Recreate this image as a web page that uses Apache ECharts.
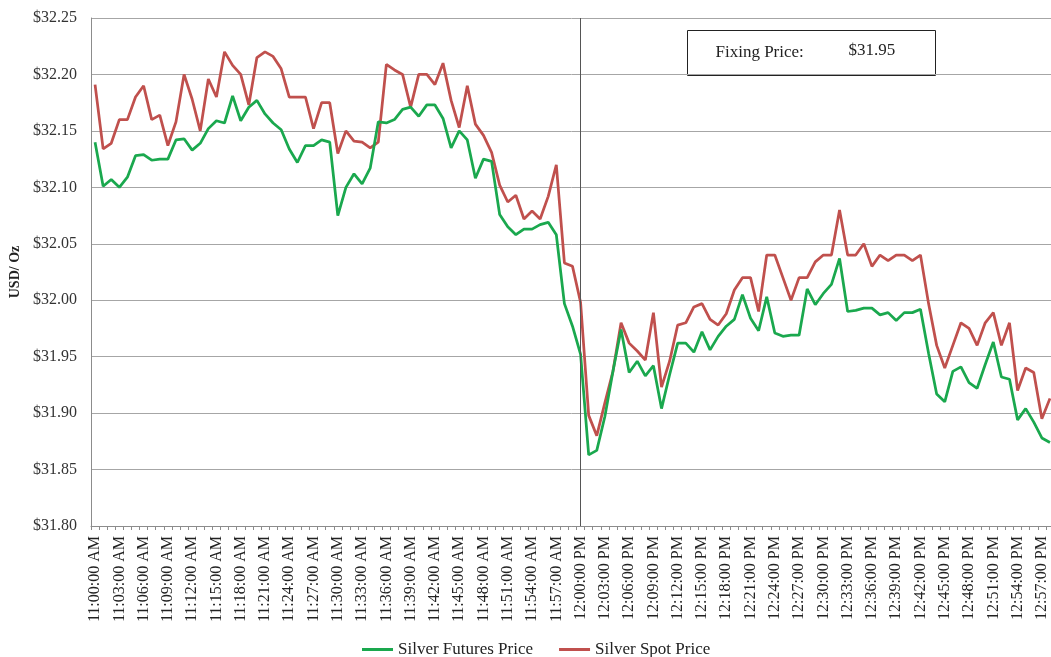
<!DOCTYPE html>
<html>
<head>
<meta charset="utf-8">
<title>Silver Futures vs Spot Price</title>
<script src="https://cdn.jsdelivr.net/npm/echarts@6/dist/echarts.min.js"></script>
<style>
  html, body { margin: 0; padding: 0; background: #fff; }
  #chart { width: 1051px; height: 657px; }
</style>
</head>
<body>
<div id="chart"></div>
<script>
// One sample per minute, 11:00 AM through 12:58 PM
const startMinute = 11 * 60;
const sampleCount = 119;
const timeLabels = [];
for (let i = 0; i < sampleCount; i++) {
  const t = startMinute + i;
  const h = Math.floor(t / 60);
  const m = t % 60;
  const h12 = h > 12 ? h - 12 : h;
  timeLabels.push(h12 + ':' + String(m).padStart(2, '0') + ':00 ' + (h >= 12 ? 'PM' : 'AM'));
}

const futuresPrice = [
  32.140, 32.101, 32.107, 32.100, 32.109, 32.128, 32.129, 32.124, 32.125, 32.125,
  32.142, 32.143, 32.133, 32.139, 32.152, 32.159, 32.157, 32.181, 32.159, 32.171,
  32.177, 32.165, 32.157, 32.151, 32.134, 32.122, 32.137, 32.137, 32.142, 32.140,
  32.075, 32.100, 32.112, 32.103, 32.117, 32.158, 32.157, 32.160, 32.169, 32.171,
  32.163, 32.173, 32.173, 32.161, 32.135, 32.150, 32.142, 32.108, 32.125, 32.123,
  32.076, 32.065, 32.058, 32.063, 32.063, 32.067, 32.069, 32.058, 31.997, 31.977,
  31.952, 31.863, 31.867, 31.897, 31.937, 31.974, 31.936, 31.946, 31.933, 31.942,
  31.904, 31.934, 31.962, 31.962, 31.954, 31.972, 31.956, 31.968, 31.977, 31.983,
  32.005, 31.984, 31.973, 32.003, 31.971, 31.968, 31.969, 31.969, 32.010, 31.996,
  32.006, 32.014, 32.037, 31.990, 31.991, 31.993, 31.993, 31.987, 31.989, 31.982,
  31.989, 31.989, 31.992, 31.953, 31.917, 31.910, 31.937, 31.941, 31.927, 31.922,
  31.943, 31.963, 31.932, 31.930, 31.894, 31.904, 31.892, 31.878, 31.874
];

const spotPrice = [
  32.191, 32.134, 32.139, 32.160, 32.160, 32.180, 32.190, 32.160, 32.164, 32.137,
  32.158, 32.200, 32.178, 32.150, 32.196, 32.180, 32.220, 32.208, 32.200, 32.173,
  32.215, 32.220, 32.216, 32.205, 32.180, 32.180, 32.180, 32.152, 32.175, 32.175,
  32.130, 32.150, 32.141, 32.140, 32.135, 32.140, 32.209, 32.204, 32.200, 32.171,
  32.200, 32.200, 32.191, 32.210, 32.177, 32.153, 32.190, 32.156, 32.146, 32.131,
  32.102, 32.087, 32.093, 32.072, 32.079, 32.072, 32.092, 32.120, 32.033, 32.030,
  31.998, 31.898, 31.880, 31.909, 31.937, 31.980, 31.962, 31.955, 31.947, 31.989,
  31.923, 31.946, 31.978, 31.980, 31.994, 31.997, 31.983, 31.978, 31.988, 32.009,
  32.020, 32.020, 31.990, 32.040, 32.040, 32.020, 32.000, 32.020, 32.020, 32.034,
  32.040, 32.040, 32.080, 32.040, 32.040, 32.050, 32.030, 32.040, 32.035, 32.040,
  32.040, 32.035, 32.040, 31.997, 31.960, 31.940, 31.960, 31.980, 31.975, 31.960,
  31.980, 31.989, 31.960, 31.980, 31.920, 31.940, 31.936, 31.895, 31.913
];

const fixingTime = '12:00:00 PM';
const fixingPrice = 31.95;

const serif = '"Liberation Serif", "DejaVu Serif", serif';

const chart = echarts.init(document.getElementById('chart'), null, { renderer: 'canvas' });

chart.setOption({
  backgroundColor: '#ffffff',
  animation: false,
  textStyle: { fontFamily: serif },
  grid: {
    left: 91, right: -3, top: 18, bottom: 131,
    containLabel: false,
    outerBoundsMode: 'none'
  },
  legend: {
    top: 636,
    left: 357,
    itemGap: 26,
    itemWidth: 31,
    itemHeight: 3,
    icon: 'rect',
    textStyle: { fontFamily: serif, fontSize: 17, color: '#222' },
    data: ['Silver Futures Price', 'Silver Spot Price']
  },
  xAxis: {
    type: 'category',
    data: timeLabels,
    boundaryGap: true,
    axisLine: { lineStyle: { color: '#8c8c8c', width: 1 } },
    axisTick: { show: true, interval: 0, length: 4, lineStyle: { color: '#8c8c8c' } },
    axisLabel: {
      interval: 2,
      rotate: 90,
      fontFamily: serif,
      fontSize: 16,
      color: '#222',
      margin: 10
    },
    splitLine: { show: false }
  },
  yAxis: {
    type: 'value',
    min: 31.80,
    max: 32.25,
    interval: 0.05,
    name: 'USD/ Oz',
    nameLocation: 'middle',
    nameGap: 65,
    nameRotate: 90,
    nameTextStyle: { fontFamily: serif, fontSize: 14, fontWeight: 'bold', color: '#222' },
    axisLine: { show: true, lineStyle: { color: '#8c8c8c', width: 1 } },
    axisTick: { show: false },
    axisLabel: {
      fontFamily: serif,
      fontSize: 16,
      color: '#333',
      margin: 14,
      formatter: v => '$' + v.toFixed(2)
    },
    splitLine: { show: true, lineStyle: { color: '#a6a6a6', width: 1 } }
  },
  series: [
    {
      name: 'Silver Futures Price',
      type: 'line',
      data: futuresPrice,
      showSymbol: false,
      symbol: 'none',
      color: '#1aa84e',
      lineStyle: { width: 2.75, color: '#1aa84e' },
      z: 3,
      markLine: {
        silent: true,
        symbol: ['none', 'none'],
        label: { show: false },
        lineStyle: { color: '#555555', width: 1, type: 'solid' },
        data: [{ xAxis: fixingTime }]
      }
    },
    {
      name: 'Silver Spot Price',
      type: 'line',
      data: spotPrice,
      showSymbol: false,
      symbol: 'none',
      color: '#c0504d',
      lineStyle: { width: 2.75, color: '#c0504d' },
      z: 2
    }
  ],
  graphic: [
    {
      type: 'group',
      left: 687,
      top: 30,
      children: [
        {
          type: 'rect',
          shape: { x: 0, y: 0, width: 248, height: 45 },
          style: { fill: '#ffffff', stroke: '#222222', lineWidth: 1 }
        },
        {
          type: 'text',
          x: 28, y: 22,
          style: {
            text: 'Fixing Price:',
            font: '17px ' + serif,
            fill: '#222',
            verticalAlign: 'middle'
          }
        },
        {
          type: 'text',
          x: 161, y: 20,
          style: {
            text: '$' + fixingPrice.toFixed(2),
            font: '17px ' + serif,
            fill: '#222',
            verticalAlign: 'middle'
          }
        }
      ]
    }
  ]
});
</script>
</body>
</html>
